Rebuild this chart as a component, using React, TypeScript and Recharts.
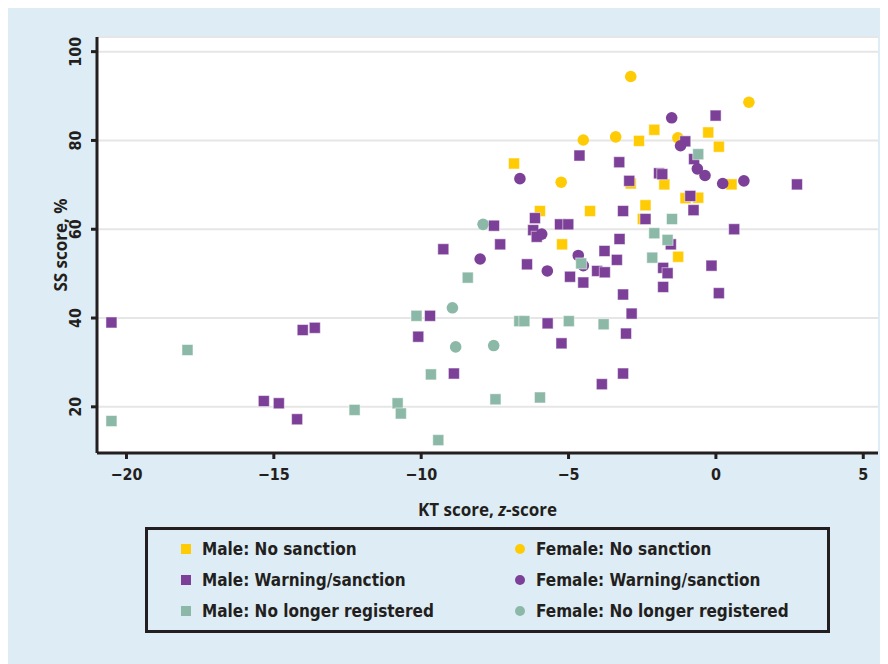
import { CartesianGrid, Scatter, ScatterChart, XAxis, YAxis } from "recharts"

// KT z-score / SS score pairs
const maleNoSanction = [
    { kt: -6.85, ss: 74.8 }, { kt: -5.97, ss: 64.1 }, { kt: -4.27, ss: 64.1 }, { kt: -5.22, ss: 56.6 },
    { kt: -2.61, ss: 79.9 }, { kt: -2.09, ss: 82.4 }, { kt: -0.26, ss: 81.8 }, { kt: 0.10, ss: 78.6 },
    { kt: -1.75, ss: 70.1 }, { kt: -2.89, ss: 70.3 }, { kt: 0.53, ss: 70.1 }, { kt: -1.03, ss: 67.0 },
    { kt: -0.60, ss: 67.1 }, { kt: -2.39, ss: 65.4 }, { kt: -1.28, ss: 53.8 }, { kt: -2.48, ss: 62.3 },
]
const femaleNoSanction = [
    { kt: -2.89, ss: 94.4 }, { kt: 1.12, ss: 88.6 }, { kt: -4.50, ss: 80.1 },
    { kt: -3.40, ss: 80.8 }, { kt: -1.29, ss: 80.6 }, { kt: -5.25, ss: 70.6 },
]
const maleWarning = [
    { kt: -0.01, ss: 85.6 }, { kt: -1.04, ss: 79.8 }, { kt: -4.63, ss: 76.6 }, { kt: -3.28, ss: 75.1 },
    { kt: -2.94, ss: 70.9 }, { kt: -1.93, ss: 72.6 }, { kt: -1.82, ss: 72.4 }, { kt: -0.74, ss: 75.8 },
    { kt: 2.75, ss: 70.1 }, { kt: -0.87, ss: 67.5 }, { kt: -0.76, ss: 64.3 }, { kt: -3.15, ss: 64.1 },
    { kt: -2.39, ss: 62.3 }, { kt: -6.14, ss: 62.5 }, { kt: -6.20, ss: 59.8 }, { kt: -6.08, ss: 58.3 },
    { kt: -5.29, ss: 61.1 }, { kt: -5.01, ss: 61.1 }, { kt: -7.53, ss: 60.8 }, { kt: -9.25, ss: 55.5 },
    { kt: -7.32, ss: 56.6 }, { kt: -6.41, ss: 52.1 }, { kt: -4.95, ss: 49.3 }, { kt: -4.50, ss: 48.0 },
    { kt: -3.78, ss: 55.1 }, { kt: -3.27, ss: 57.8 }, { kt: -3.36, ss: 53.1 }, { kt: -4.03, ss: 50.6 },
    { kt: -3.77, ss: 50.3 }, { kt: -3.15, ss: 45.3 }, { kt: -2.86, ss: 41.0 }, { kt: -3.05, ss: 36.5 },
    { kt: -1.53, ss: 56.6 }, { kt: -1.79, ss: 51.3 }, { kt: -1.64, ss: 50.1 }, { kt: -1.79, ss: 47.0 },
    { kt: -0.15, ss: 51.8 }, { kt: 0.10, ss: 45.6 }, { kt: 0.62, ss: 60.0 }, { kt: -9.70, ss: 40.5 },
    { kt: -10.10, ss: 35.8 }, { kt: -5.71, ss: 38.8 }, { kt: -5.24, ss: 34.3 }, { kt: -8.89, ss: 27.5 },
    { kt: -3.15, ss: 27.5 }, { kt: -3.87, ss: 25.1 }, { kt: -15.34, ss: 21.3 }, { kt: -14.83, ss: 20.8 },
    { kt: -14.21, ss: 17.2 }, { kt: -20.51, ss: 39.0 }, { kt: -14.02, ss: 37.3 }, { kt: -13.61, ss: 37.8 },
]
const femaleWarning = [
    { kt: -1.50, ss: 85.1 }, { kt: -1.20, ss: 78.8 }, { kt: -0.63, ss: 73.6 }, { kt: -0.37, ss: 72.1 },
    { kt: 0.23, ss: 70.3 }, { kt: 0.95, ss: 70.9 }, { kt: -6.65, ss: 71.4 }, { kt: -5.91, ss: 58.9 },
    { kt: -8.00, ss: 53.3 }, { kt: -5.72, ss: 50.6 }, { kt: -4.67, ss: 54.1 }, { kt: -4.50, ss: 51.8 },
]
const maleNoLonger = [
    { kt: -0.60, ss: 76.9 }, { kt: -1.49, ss: 62.3 }, { kt: -2.09, ss: 59.1 }, { kt: -1.64, ss: 57.6 },
    { kt: -2.16, ss: 53.6 }, { kt: -4.57, ss: 52.3 }, { kt: -8.42, ss: 49.1 }, { kt: -10.16, ss: 40.5 },
    { kt: -6.67, ss: 39.3 }, { kt: -6.50, ss: 39.3 }, { kt: -4.99, ss: 39.3 }, { kt: -3.81, ss: 38.6 },
    { kt: -9.67, ss: 27.3 }, { kt: -7.48, ss: 21.7 }, { kt: -5.97, ss: 22.1 }, { kt: -9.42, ss: 12.5 },
    { kt: -10.80, ss: 20.8 }, { kt: -10.69, ss: 18.5 }, { kt: -12.26, ss: 19.3 }, { kt: -20.51, ss: 16.8 },
    { kt: -17.93, ss: 32.8 },
]
const femaleNoLonger = [
    { kt: -7.90, ss: 61.1 }, { kt: -8.94, ss: 42.3 }, { kt: -8.83, ss: 33.5 }, { kt: -7.54, ss: 33.8 },
]

const xTicks = [-20, -15, -10, -5, 0, 5]
const yTicks = [20, 40, 60, 80, 100]

const YELLOW = "#ffcb05"
const PURPLE = "#7d4098"
const TEAL = "#8cb9a7"
const INK = "#231f20"
const BG = "#deedf5"

const series = [
    { name: "Male: No sanction", data: maleNoSanction, color: YELLOW, shape: "square" },
    { name: "Female: No sanction", data: femaleNoSanction, color: YELLOW, shape: "circle" },
    { name: "Male: Warning/sanction", data: maleWarning, color: PURPLE, shape: "square" },
    { name: "Female: Warning/sanction", data: femaleWarning, color: PURPLE, shape: "circle" },
    { name: "Male: No longer registered", data: maleNoLonger, color: TEAL, shape: "square" },
    { name: "Female: No longer registered", data: femaleNoLonger, color: TEAL, shape: "circle" },
]

const tickFont = "'DejaVu Sans Condensed', 'DejaVu Sans', sans-serif"
const titleFont = "'Open Sans', 'DejaVu Sans', sans-serif"

const fmt = (v: number) => String(v).replace("-", "\u2212")

const SquareDot = (props: any) => {
    const { cx, cy, fill } = props
    if (cx == null || cy == null) return null
    return <rect x={cx - 5.5} y={cy - 5.5} width={11} height={11} fill={fill} stroke="#fff" strokeOpacity={0.5} strokeWidth={1} />
}

const CircleDot = (props: any) => {
    const { cx, cy, fill } = props
    if (cx == null || cy == null) return null
    return <circle cx={cx} cy={cy} r={5.8} fill={fill} />
}

const YTick = (props: any) => {
    const { x, y, payload } = props
    return (
        <text transform={`translate(${x - 16}, ${y}) rotate(-90)`} textAnchor="middle" dominantBaseline="central"
            fontFamily={tickFont} fontWeight="bold" fontSize={16} fill={INK}>
            {fmt(payload.value)}
        </text>
    )
}

const XLabel = (props: any) => {
    const vb = props.viewBox
    return (
        <text x={vb.x + vb.width / 2} y={vb.y + 63} textAnchor="middle" fontFamily={titleFont} fontWeight="bold" fontSize={17} fill={INK}>
            KT score, <tspan fontStyle="italic">z</tspan>-score
        </text>
    )
}

const YLabel = (props: any) => {
    const vb = props.viewBox
    const cx = vb.x + 23
    const cy = vb.y + vb.height / 2
    return (
        <text transform={`translate(${cx}, ${cy}) rotate(-90)`} textAnchor="middle" dominantBaseline="central"
            fontFamily={titleFont} fontWeight="bold" fontSize={17} fill={INK}>
            SS score, %
        </text>
    )
}

const Marker = ({ color, shape }: { color: string, shape: string }) => (
    <span style={{
        display: "inline-block", width: 10, height: 10, background: color,
        borderRadius: shape === "circle" ? "50%" : 0, marginRight: 11,
    }} />
)

export default function App() {
    return (
        <div style={{ position: "relative", width: 882, height: 656, marginLeft: -2, background: BG }}>
            <ScatterChart width={882} height={530} margin={{ top: 29, right: 10, left: 31, bottom: 5 }}>
                <CartesianGrid vertical={false} fill="#fff" stroke="#e6e6e6" strokeWidth={2} />
                <XAxis type="number" dataKey="kt" domain={[-21, 5.5]} ticks={xTicks} allowDataOverflow
                    height={80} tickFormatter={fmt} stroke={INK} strokeWidth={3} tickSize={6} tickMargin={10}
                    tick={{ fill: INK, fontFamily: tickFont, fontWeight: "bold", fontSize: 16 }}
                    tickLine={{ stroke: INK, strokeWidth: 3 }} axisLine={{ stroke: INK, strokeWidth: 3 }}
                    label={<XLabel />} />
                <YAxis type="number" dataKey="ss" domain={[9.6, 103.3]} ticks={yTicks} allowDataOverflow
                    width={60} tickSize={6} tickMargin={0} tick={<YTick />}
                    tickLine={{ stroke: INK, strokeWidth: 3 }} axisLine={{ stroke: INK, strokeWidth: 3 }}
                    label={<YLabel />} />
                {series.map((s) => (
                    <Scatter key={s.name} name={s.name} data={s.data} fill={s.color}
                        shape={s.shape === "circle" ? <CircleDot /> : <SquareDot />} isAnimationActive={false} />
                ))}
            </ScatterChart>
            <div style={{
                position: "absolute", left: 139, top: 519, width: 685, height: 106, boxSizing: "border-box",
                border: `3px solid ${INK}`, paddingTop: 3, paddingLeft: 33,
                display: "grid", gridTemplateColumns: "334px 1fr", gridAutoRows: "31px",
                fontFamily: tickFont, fontWeight: "bold", fontSize: 17, color: INK,
            }}>
                {series.map((s) => (
                    <div key={s.name} style={{ display: "flex", alignItems: "center" }}>
                        <Marker color={s.color} shape={s.shape} />
                        <span>{s.name}</span>
                    </div>
                ))}
            </div>
        </div>
    )
}
